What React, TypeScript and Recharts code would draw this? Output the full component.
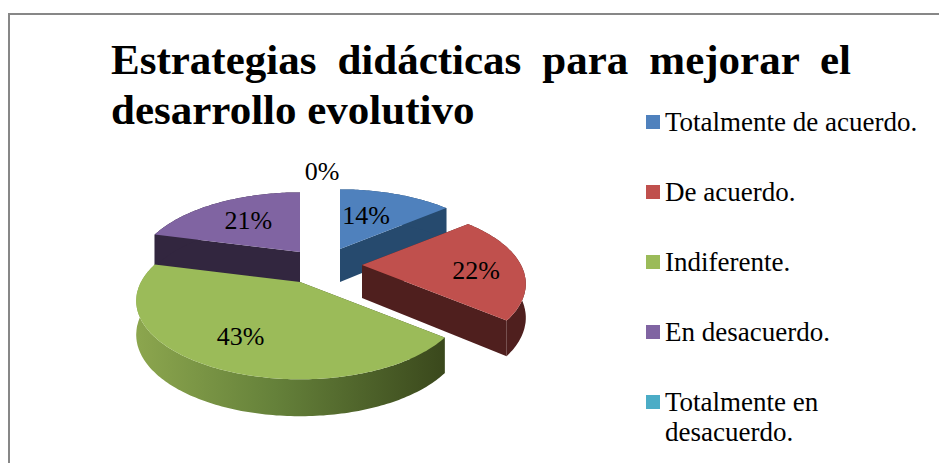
import { Legend, Pie, PieChart } from 'recharts'

const categories = [
  'Totalmente de acuerdo.',
  'De acuerdo.',
  'Indiferente.',
  'En desacuerdo.',
  'Totalmente en desacuerdo.',
]
const values = [14, 22, 43, 21, 0]
const topColors = ['#4F81BD', '#C0504D', '#9BBB59', '#8064A2', '#4BACC6']
const wallColors = ['#264A6E', '#4F1F1E', '#3E4D20', '#32263F', '#255A68']
const titleLines = ['Estrategias didácticas para mejorar el', 'desarrollo evolutivo']

const rows = categories.map((name, i) => ({ name, value: values[i], slot: i, fill: topColors[i] }))

const W = 939
const H = 463
const RADIUS = 159
const TILT = 0.465
const PERSPECTIVE = 0.24

// how far each slice is pulled out of the pie, in screen px
const explode = [[16, -18], [38, -2], [-24, 15], [-24, -15], [0, 0]]
const labelNudge = [[-14, 6], [6, 5], [-2, 2], [7, 4], [-2, -96]]

const serif = '"Liberation Serif", "Times New Roman", serif'

// recharts angles are counter clockwise from 3 o'clock
function projected(props: any, slot: number, r: number, angle: number) {
  const a = ((90 - angle) * Math.PI) / 180
  const u = r * Math.sin(a)
  const v = -r * Math.cos(a)
  const s = 1 / (1 - PERSPECTIVE * v)
  return {
    x: props.cx + explode[slot][0] + u * props.outerRadius * s,
    y: props.cy + explode[slot][1] + v * props.outerRadius * TILT * s,
    v,
  }
}

function dropped(p: { x: number; y: number; v: number }) {
  return { x: p.x, y: p.y + 33 * (1 + 0.12 * p.v) }
}

function toPath(points: { x: number; y: number }[]) {
  return points.map((p, i) => `${i ? 'L' : 'M'}${p.x.toFixed(1)},${p.y.toFixed(1)}`).join('') + 'Z'
}

function arc(props: any, slot: number) {
  const steps = Math.ceil(Math.abs(props.endAngle - props.startAngle))
  const points = []
  for (let k = 0; k <= steps; k++) {
    const angle = props.startAngle + ((props.endAngle - props.startAngle) * k) / steps
    points.push(projected(props, slot, 1, angle))
  }
  return points
}

function TopFace(props: any) {
  const slot = props.slot ?? props.payload?.slot
  if (!props.value) return <g />
  const apex = projected(props, slot, 0, props.startAngle)
  return <path d={toPath([apex, ...arc(props, slot)])} fill={topColors[slot]} />
}

function Walls(props: any) {
  const slot = props.slot ?? props.payload?.slot
  if (!props.value) return <g />
  const apex = projected(props, slot, 0, props.startAngle)
  const rim = arc(props, slot)
  const first = rim[0]
  const last = rim[rim.length - 1]
  const rimFill = slot === 2 ? 'url(#greenRim)' : wallColors[slot]
  return (
    <g>
      <path d={toPath([apex, first, dropped(first), dropped(apex)])} fill={wallColors[slot]} />
      <path d={toPath([apex, last, dropped(last), dropped(apex)])} fill={wallColors[slot]} />
      <path d={toPath([...rim, ...rim.map(dropped).reverse()])} fill={rimFill} />
    </g>
  )
}

function SliceLabel(props: any) {
  const slot = props.slot ?? props.payload?.slot
  const p = props.value
    ? projected(props, slot, 0.68, props.midAngle)
    : { x: props.cx, y: props.cy }
  return (
    <text
      x={p.x + labelNudge[slot][0]}
      y={p.y + labelNudge[slot][1]}
      textAnchor="middle"
      dominantBaseline="central"
      fontFamily={serif}
      fontSize={26}
      fill="#000"
    >
      {props.value}%
    </text>
  )
}

function LegendBox() {
  return (
    <div style={{ position: 'absolute', left: 646, top: 107, width: 275, fontFamily: serif, fontSize: 27, lineHeight: '30px', color: '#000' }}>
      {rows.map((row, i) => (
        <div key={row.name} style={{ position: 'absolute', top: i * 70, left: 0, width: 275, paddingLeft: 19, boxSizing: 'border-box' }}>
          <span style={{ position: 'absolute', left: 0, top: 8, width: 14, height: 14, background: topColors[i] }} />
          {row.name}
        </div>
      ))}
    </div>
  )
}

export default function App() {
  const titleStyle = {
    position: 'absolute' as const,
    left: 111,
    fontFamily: serif,
    fontWeight: 'bold',
    fontSize: 43,
    lineHeight: '50px',
    color: '#000',
  }
  return (
    <div style={{ position: 'absolute', left: 0, top: 0, width: W, height: H, overflow: 'hidden', background: '#fff' }}>
      <div style={{ position: 'absolute', left: 8, top: 13, width: W, height: H, borderLeft: '2px solid #878787', borderTop: '2px solid #878787' }} />
      <div style={{ ...titleStyle, top: 35, width: 740, textAlign: 'justify', textAlignLast: 'justify' }}>{titleLines[0]}</div>
      <div style={{ ...titleStyle, top: 85, width: 370 }}>{titleLines[1]}</div>
      <div style={{ position: 'absolute', left: 0, top: 0 }}>
        <PieChart width={W} height={H} margin={{ top: 0, right: 0, bottom: 0, left: 0 }}>
          <defs>
            <linearGradient id="greenRim" x1="0" y1="0" x2="1" y2="0">
              <stop offset="0%" stopColor="#8CA64E" />
              <stop offset="45%" stopColor="#65813A" />
              <stop offset="100%" stopColor="#3A481C" />
            </linearGradient>
          </defs>
          <Pie
            data={rows}
            dataKey="value"
            nameKey="name"
            cx={324}
            cy={267}
            outerRadius={RADIUS}
            startAngle={90}
            endAngle={-270}
            shape={Walls}
            legendType="none"
            label={false}
            labelLine={false}
            isAnimationActive={false}
          />
          <Pie
            data={rows}
            dataKey="value"
            nameKey="name"
            cx={324}
            cy={267}
            outerRadius={RADIUS}
            startAngle={90}
            endAngle={-270}
            shape={TopFace}
            label={SliceLabel}
            labelLine={false}
            isAnimationActive={false}
          />
          <Legend content={LegendBox} wrapperStyle={{ position: 'absolute', left: 0, top: 0, width: 0, height: 0 }} />
        </PieChart>
      </div>
    </div>
  )
}
